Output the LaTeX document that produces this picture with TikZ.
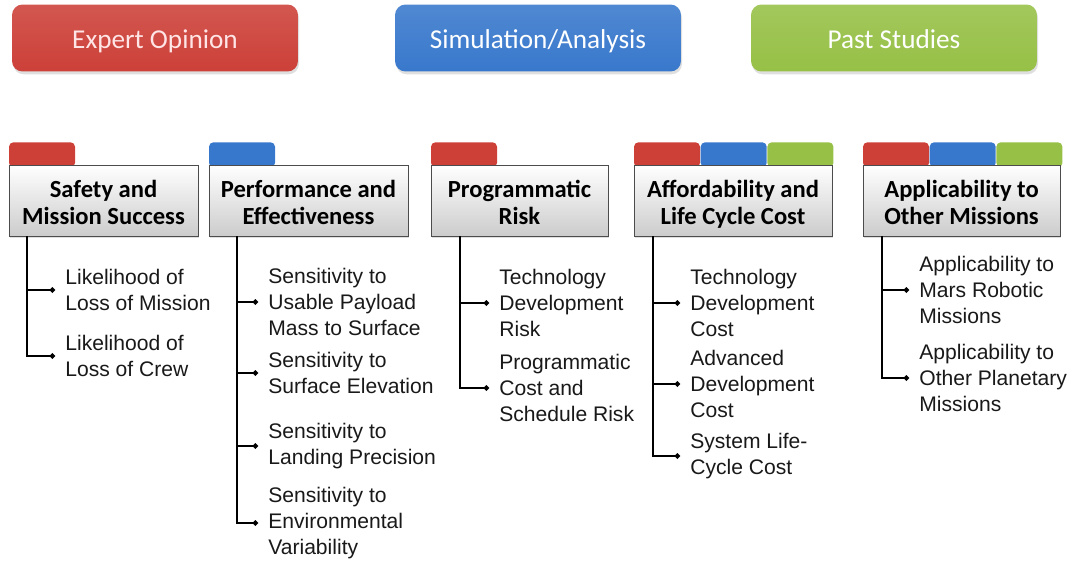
\documentclass[tikz,border=0pt]{standalone}
\usepackage{fontspec}
\setmainfont{Liberation Sans}
\newfontfamily\calibri{Carlito}
\usetikzlibrary{positioning, calc, shadows, arrows.meta}
\definecolor{expred}{HTML}{CC4038}
\definecolor{simblue}{HTML}{3878CC}
\definecolor{pastgreen}{HTML}{96C046}
\pgfdeclarelayer{back}
\pgfsetlayers{back,main}
\newcommand{\twolines}[2]{\begin{tabular}[b]{@{}c@{}}#1\\#2\end{tabular}}

\begin{document}
\begin{tikzpicture}[x=0.02cm, y=-0.02cm,
	button/.style = {rounded corners=6pt, minimum width=5.72cm, minimum height=1.34cm,
		text height=11.4pt, text depth=0pt,
		font=\calibri\fontsize{15.5}{18}\selectfont, text=white!90!red,
		drop shadow={opacity=0.25, shadow xshift=0.6pt, shadow yshift=-1.6pt}},
	crit/.style = {draw=black!70, top color=white, bottom color=black!20, minimum height=1.42cm,
		inner sep=1pt, text height=26.8pt, text depth=0pt,
		font=\calibri\bfseries\fontsize{14}{15.3}\selectfont,
		drop shadow={opacity=0.25, shadow xshift=0.6pt, shadow yshift=-1.4pt}},
	tab/.style = {rounded corners=2.5pt, minimum width=1.32cm, minimum height=0.5cm, inner sep=0pt},
	item/.style = {anchor=west, align=left, inner xsep=0.2cm, inner ysep=0pt,
		font=\fontsize{12}{14.8}\selectfont, text=black!90},
	link/.style = {-{Circle[length=3pt]}, line width=1pt}]
	
	\useasboundingbox (0,0) rectangle (1073,562);
	
	% sources of the assessment
	\node[button, top color=expred!88!white, bottom color=expred] (expert) at (155,38) {Expert Opinion};
	\node[button, top color=simblue!88!white, bottom color=simblue, text=white] (sim) at (538,38) {Simulation/Analysis};
	\node[button, top color=pastgreen!88!white, bottom color=pastgreen, text=white] (past) at (894,38) {Past Studies};
	
	% the criteria
	\node[crit, minimum width=3.78cm] (c1) at (103.5,200.5) {\twolines{Safety and}{Mission Success}};
	\node[crit, minimum width=3.98cm] (c2) at (308.5,200.5) {\twolines{Performance and}{Effectiveness}};
	\node[crit, minimum width=3.54cm] (c3) at (519.5,200.5) {\twolines{Programmatic}{Risk}};
	\node[crit, minimum width=3.96cm] (c4) at (733,200.5) {\twolines{Affordability and}{Life Cycle Cost}};
	\node[crit, minimum width=3.94cm] (c5) at (961.5,200.5) {\twolines{Applicability to}{Other Missions}};
	
	% coloured tabs behind the criteria
	\begin{pgfonlayer}{back}
		\node[tab, fill=expred, anchor=south west] (t1a) at ([yshift=-0.06cm]c1.north west) {};
		\node[tab, fill=simblue, anchor=south west] (t2a) at ([yshift=-0.06cm]c2.north west) {};
		\node[tab, fill=expred, anchor=south west] (t3a) at ([yshift=-0.06cm]c3.north west) {};
		\node[tab, fill=expred, anchor=south west] (t4a) at ([yshift=-0.06cm]c4.north west) {};
		\node[tab, fill=simblue, right=0pt of t4a] (t4b) {};
		\node[tab, fill=pastgreen, right=0pt of t4b] (t4c) {};
		\node[tab, fill=expred, anchor=south west] (t5a) at ([yshift=-0.06cm]c5.north west) {};
		\node[tab, fill=simblue, right=0pt of t5a] (t5b) {};
		\node[tab, fill=pastgreen, right=0pt of t5b] (t5c) {};
	\end{pgfonlayer}
	
	% sub-criteria
	\node[item] (c11) at (55,290) {Likelihood of\\Loss of Mission};
	\node[item] (c12) at (55,356) {Likelihood of\\Loss of Crew};
	
	\node[item] (c21) at (258,302) {Sensitivity to\\Usable Payload\\Mass to Surface};
	\node[item] (c22) at (258,373) {Sensitivity to\\Surface Elevation};
	\node[item] (c23) at (258,446) {Sensitivity to\\Landing Precision};
	\node[item] (c24) at (258,523) {Sensitivity to\\Environmental\\Variability};
	
	\node[item] (c31) at (489,303) {Technology\\Development\\Risk};
	\node[item] (c32) at (489,388) {Programmatic\\Cost and\\Schedule Risk};
	
	\node[item] (c41) at (680,303) {Technology\\Development\\Cost};
	\node[item] (c42) at (680,384) {Advanced\\Development\\Cost};
	\node[item] (c43) at (680,456) {System Life-\\Cycle Cost};
	
	\node[item] (c51) at (909,290) {Applicability to\\Mars Robotic\\Missions};
	\node[item] (c52) at (909,378) {Applicability to\\Other Planetary\\Missions};
	
	% trunks under each criterion
	\coordinate (r1) at ([xshift=0.36cm]c1.south west);
	\coordinate (r2) at ([xshift=0.56cm]c2.south west);
	\coordinate (r3) at ([xshift=0.58cm]c3.south west);
	\coordinate (r4) at ([xshift=0.38cm]c4.south west);
	\coordinate (r5) at ([xshift=0.38cm]c5.south west);
	
	\foreach \value in {1,2}
	\draw[link] (r1) |- (c1\value.west);
	
	\foreach \value in {1,...,4}
	\draw[link] (r2) |- (c2\value.west);
	
	\foreach \value in {1,2}
	\draw[link] (r3) |- (c3\value.west);
	
	\foreach \value in {1,...,3}
	\draw[link] (r4) |- (c4\value.west);
	
	\foreach \value in {1,2}
	\draw[link] (r5) |- (c5\value.west);
\end{tikzpicture}
\end{document}
